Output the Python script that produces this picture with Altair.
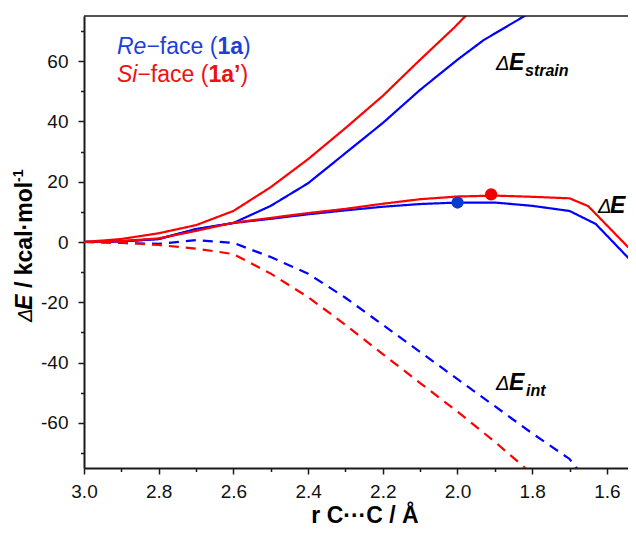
import altair as alt
import pandas as pd

# ---------------- data ----------------
re_strain_r = [3.0, 2.9, 2.8, 2.7, 2.6, 2.5, 2.4, 2.3, 2.2, 2.1, 2.0, 1.93, 1.8]
re_strain_E = [0, 0.2, 1.0, 4.2, 6.3, 12.0, 19.5, 29.5, 39.5, 50.5, 60.5, 67.0, 76.5]

re_de_r = [3.0, 2.9, 2.8, 2.7, 2.6, 2.5, 2.4, 2.3, 2.2, 2.1, 2.0, 1.9, 1.8, 1.7, 1.63, 1.5]
re_de_E = [0, 0.2, 1.0, 4.3, 6.3, 7.7, 9.2, 10.5, 11.7, 12.6, 13.1, 13.1, 12.0, 10.3, 6.0, -10.8]

re_int_r = [3.0, 2.9, 2.8, 2.7, 2.6, 2.5, 2.4, 2.3, 2.2, 2.1, 2.0, 1.9, 1.8, 1.7, 1.65]
re_int_E = [0, -0.3, -0.6, 0.6, -0.3, -5.0, -10.5, -18.5, -27.5, -36.5, -45.5, -54.5, -63.5, -72.0, -80.0]

si_strain_r = [3.0, 2.9, 2.8, 2.7, 2.6, 2.5, 2.4, 2.3, 2.2, 2.1, 2.01, 1.9]
si_strain_E = [0, 1.0, 2.9, 5.6, 10.3, 18.2, 27.5, 37.8, 48.5, 60.5, 71.0, 85.0]

si_de_r = [3.0, 2.9, 2.8, 2.7, 2.6, 2.5, 2.4, 2.3, 2.2, 2.1, 2.0, 1.9, 1.8, 1.7, 1.65, 1.5]
si_de_E = [0, 0.3, 1.2, 3.7, 6.4, 8.0, 9.6, 11.0, 12.7, 14.2, 15.1, 15.4, 15.0, 14.5, 11.9, -7.2]

si_int_r = [3.0, 2.9, 2.8, 2.7, 2.6, 2.5, 2.4, 2.3, 2.2, 2.1, 2.0, 1.9, 1.8]
si_int_E = [0, -0.2, -1.0, -2.2, -4.0, -10.5, -18.3, -27.5, -37.2, -46.8, -56.3, -66.3, -77.0]

ts_face = ["Re", "Si"]
ts_r = [2.0, 1.91]
ts_E = [13.1, 15.8]

x_major = [3.0, 2.8, 2.6, 2.4, 2.2, 2.0, 1.8, 1.6]
x_minor = [2.9, 2.7, 2.5, 2.3, 2.1, 1.9, 1.7]
y_major = [-60, -40, -20, 0, 20, 40, 60]
y_minor = [-70, -50, -30, -10, 10, 30, 50, 70]

# ---------------- tables ----------------
rows = []
for face, comp, rs, es in [
    ("Re", "strain", re_strain_r, re_strain_E),
    ("Re", "de", re_de_r, re_de_E),
    ("Re", "int", re_int_r, re_int_E),
    ("Si", "strain", si_strain_r, si_strain_E),
    ("Si", "de", si_de_r, si_de_E),
    ("Si", "int", si_int_r, si_int_E),
]:
    for r, e in zip(rs, es):
        rows.append({"r": r, "E": e, "face": face, "comp": comp, "series": face + comp})
df = pd.DataFrame(rows)
ts = pd.DataFrame({"r": ts_r, "E": ts_E, "face": ts_face})

FONT = "Liberation Sans"
W, H = 544, 452
AX = "#1a1a1a"

# 373.5 px per angstrom, as in the reference; the right edge is cut by the page
x_scale = alt.Scale(domain=[3.0, 1.5435], nice=False, zero=False)
y_scale = alt.Scale(domain=[-75, 75], nice=False, zero=False)

common_axis = dict(
    title=None, grid=False, labelFlush=False, labelOverlap=False,
    domainColor=AX, domainWidth=2, tickColor=AX, tickWidth=1.5,
    labelFont=FONT, labelFontSize=19, labelColor="#111",
)

x_main = alt.X("r:Q", scale=x_scale, axis=alt.Axis(
    values=x_major, orient="bottom", tickSize=6, labelPadding=8,
    labelExpr="format(datum.value, '.1f')", **common_axis))
y_main = alt.Y("E:Q", scale=y_scale, axis=alt.Axis(
    values=y_major, orient="left", tickSize=6, labelPadding=10,
    labelExpr="'' + datum.value", **common_axis))

minor_axis = dict(title=None, grid=False, labels=False, domain=False,
                  tickSize=3.5, tickColor=AX, tickWidth=1.5)
x_min = alt.X("r:Q", scale=x_scale, axis=alt.Axis(values=x_minor, orient="bottom", **minor_axis))
y_min = alt.Y("E:Q", scale=y_scale, axis=alt.Axis(values=y_minor, orient="left", **minor_axis))

lines = alt.Chart(df).mark_line(clip=True, strokeWidth=2.2).encode(
    x=x_main,
    y=y_main,
    color=alt.Color("face:N", scale=alt.Scale(domain=["Re", "Si"], range=["#0000ff", "#ff0000"]), legend=None),
    strokeDash=alt.StrokeDash(
        "comp:N",
        scale=alt.Scale(domain=["strain", "de", "int"], range=[[1, 0], [1, 0], [10, 7]]),
        legend=None,
    ),
    detail="series:N",
)

dots = alt.Chart(ts).mark_circle(size=150, opacity=1, clip=True).encode(
    x=x_min,
    y=y_min,
    color=alt.Color("face:N", scale=alt.Scale(domain=["Re", "Si"], range=["#0a3ccc", "#ee0000"]), legend=None),
)

one = alt.Data(values=[{}])


def label(txt, px, py, size, weight="normal", style="normal", color="#000", angle=0, align="left"):
    # px, py: page pixel position; plot origin is at (84, 16)
    return alt.Chart(one).mark_text(
        text=txt, font=FONT, fontSize=size, fontWeight=weight, fontStyle=style,
        color=color, align=align, baseline="alphabetic", angle=angle,
    ).encode(x=alt.value(px - 84), y=alt.value(py - 16))


BLUE_T = "#1f3fd8"
RED_T = "#ee1111"
texts = [
    # legend
    label("Re", 117, 54, 23, style="italic", color=BLUE_T),
    label("\u2212face (", 146.4, 54, 23, color=BLUE_T),
    label("1a", 217.4, 54, 23, weight="bold", color=BLUE_T),
    label(")", 243.0, 54, 23, color=BLUE_T),
    label("Si", 117, 82, 23, style="italic", color=RED_T),
    label("\u2212face (", 137.4, 82, 23, color=RED_T),
    label("1a\u2019", 208.4, 82, 23, weight="bold", color=RED_T),
    label(")", 240.4, 82, 23, color=RED_T),
    # curve labels
    label("\u0394", 496, 69.5, 20, style="italic"),
    label("E", 509, 69.5, 23, weight="bold", style="italic"),
    label("strain", 525, 75.5, 16, weight="bold", style="italic"),
    label("\u0394", 598, 213, 20, style="italic"),
    label("E", 610, 213, 23, weight="bold", style="italic"),
    label("\u0394", 496, 389.5, 20, style="italic"),
    label("E", 509, 389.5, 23, weight="bold", style="italic"),
    label("int", 526, 395.5, 16, weight="bold", style="italic"),
    # y title (rotated)
    label("\u0394", 32, 322, 20, style="italic", angle=270),
    label("E", 32, 310, 23, weight="bold", style="italic", angle=270),
    label("/ kcal\u00b7mol", 32, 288, 23, weight="bold", angle=270),
    label("-1", 23, 182, 14, weight="bold", angle=270),
    # x title
    label("r C\u00b7\u00b7\u00b7C / \u00c5", 365, 523, 23, weight="bold", align="center"),
]

frame_top = alt.Chart(one).mark_rule(color=AX, strokeWidth=1.5).encode(
    x=alt.value(0), x2=alt.value(W), y=alt.value(0)
)

chart = alt.layer(lines, dots, frame_top, *texts).resolve_scale(
    color="independent"
).resolve_axis(
    x="independent", y="independent"
).properties(
    width=W, height=H,
    autosize=alt.AutoSizeParams(type="none"),
    padding={"left": 76, "top": 8, "right": 0, "bottom": 59},
).configure_view(stroke=None)

chart.save("out.html", embed_options={"renderer": "svg", "actions": False})
